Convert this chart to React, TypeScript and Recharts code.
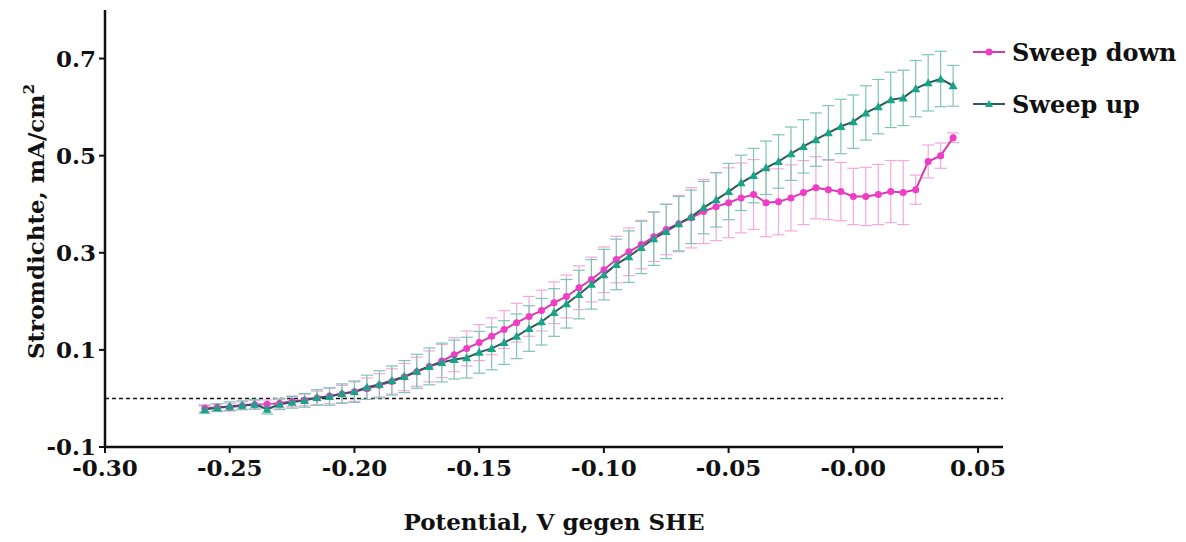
import { LineChart, Line, XAxis, YAxis, ErrorBar, ReferenceLine } from 'recharts';

const potential = [
    -0.26, -0.255, -0.25, -0.245, -0.24, -0.235, -0.23, -0.225, -0.22, -0.215,
    -0.21, -0.205, -0.2, -0.195, -0.19, -0.185, -0.18, -0.175, -0.17, -0.165,
    -0.16, -0.155, -0.15, -0.145, -0.14, -0.135, -0.13, -0.125, -0.12, -0.115,
    -0.11, -0.105, -0.1, -0.095, -0.09, -0.085, -0.08, -0.075, -0.07, -0.065,
    -0.06, -0.055, -0.05, -0.045, -0.04, -0.035, -0.03, -0.025, -0.02, -0.015,
    -0.01, -0.005, 0.0, 0.005, 0.01, 0.015, 0.02, 0.025, 0.03, 0.035,
    0.04,
];

const sweepDown = [
    -0.02, -0.018, -0.018, -0.015, -0.013, -0.012, -0.01, -0.006, -0.003, 0.001,
    0.005, 0.009, 0.014, 0.02, 0.027, 0.035, 0.044, 0.055, 0.066, 0.077,
    0.09, 0.103, 0.115, 0.128, 0.142, 0.156, 0.169, 0.181, 0.197, 0.21,
    0.228, 0.245, 0.265, 0.286, 0.302, 0.317, 0.333, 0.348, 0.36, 0.372,
    0.385, 0.395, 0.403, 0.413, 0.42, 0.403, 0.405, 0.413, 0.424, 0.434,
    0.43, 0.426, 0.416, 0.416, 0.42, 0.426, 0.424, 0.43, 0.488, 0.5,
    0.537,
];

const sweepUp = [
    -0.023, -0.019, -0.016, -0.014, -0.012, -0.022, -0.012, -0.008, -0.004, 0.002,
    0.004, 0.01, 0.014, 0.023, 0.029, 0.037, 0.045, 0.056, 0.066, 0.074,
    0.08, 0.084, 0.095, 0.103, 0.115, 0.128, 0.144, 0.158, 0.177, 0.195,
    0.214, 0.235, 0.255, 0.276, 0.292, 0.311, 0.329, 0.344, 0.36, 0.374,
    0.393, 0.409, 0.426, 0.444, 0.459, 0.475, 0.488, 0.504, 0.519, 0.533,
    0.547, 0.56, 0.57, 0.588, 0.601, 0.615, 0.619, 0.638, 0.65, 0.658,
    0.644,
];

const sweepDownErr = [
    0.007, 0.007, 0.008, 0.008, 0.009, 0.009, 0.01, 0.011, 0.012, 0.014,
    0.016, 0.018, 0.02, 0.022, 0.024, 0.026, 0.028, 0.03, 0.032, 0.034,
    0.035, 0.036, 0.037, 0.038, 0.039, 0.04, 0.041, 0.042, 0.043, 0.044,
    0.045, 0.046, 0.047, 0.048, 0.049, 0.05, 0.051, 0.052, 0.058, 0.062,
    0.066, 0.07, 0.072, 0.072, 0.072, 0.07, 0.068, 0.068, 0.066, 0.064,
    0.062, 0.06, 0.058, 0.06, 0.062, 0.064, 0.066, 0.03, 0.034, 0.026,
    0.01,
];

const sweepUpErr = [
    0.008, 0.008, 0.009, 0.009, 0.01, 0.01, 0.011, 0.012, 0.014, 0.016,
    0.018, 0.02, 0.022, 0.025, 0.028, 0.03, 0.033, 0.035, 0.038, 0.04,
    0.04, 0.042, 0.043, 0.044, 0.045, 0.046, 0.047, 0.048, 0.049, 0.05,
    0.05, 0.051, 0.052, 0.052, 0.053, 0.054, 0.055, 0.056, 0.056, 0.055,
    0.054, 0.056, 0.058, 0.057, 0.056, 0.055, 0.055, 0.055, 0.055, 0.055,
    0.056, 0.056, 0.055, 0.056, 0.056, 0.057, 0.057, 0.058, 0.058, 0.057,
    0.042,
];

const xTicks = [-0.3, -0.25, -0.2, -0.15, -0.1, -0.05, 0, 0.05];
const xTickLabels = ['-0.30', '-0.25', '-0.20', '-0.15', '-0.10', '-0.05', '-0.00', '0.05'];
const yTicks = [-0.1, 0.1, 0.3, 0.5, 0.7];
const yTickLabels = ['-0.1', '0.1', '0.3', '0.5', '0.7'];
const seriesNames = ['Sweep down', 'Sweep up'];

const FONT = '"DejaVu Serif", serif';
const PINK = '#f03cc6';
const PINK_LINE = '#d43aae';
const TEAL = '#19a488';
const TEAL_LINE = '#2b5b5b';

const data = potential.map((x, i) => ({
    x,
    down: sweepDown[i],
    up: sweepUp[i],
    downErr: sweepDownErr[i],
    upErr: sweepUpErr[i],
}));

// kleine Dreiecke für "Sweep up"
const renderTriangle = (props: any) => {
    const { cx, cy, index } = props;
    return (
        <path
            key={`tri-${index}`}
            d={`M${cx},${cy - 4.5}L${cx + 4.5},${cy + 3.5}L${cx - 4.5},${cy + 3.5}Z`}
            fill={TEAL}
        />
    );
};

const ChartLegend = () => {
    const items = [
        { name: seriesNames[0], line: PINK_LINE, marker: PINK, tri: false },
        { name: seriesNames[1], line: TEAL_LINE, marker: TEAL, tri: true },
    ];
    return (
        <div
            style={{
                position: 'absolute',
                top: 18,
                left: 965,
                fontFamily: FONT,
                fontWeight: 'bold',
                fontSize: 24,
                color: '#111',
            }}
        >
            {items.map((item) => (
                <div key={item.name} style={{ display: 'flex', alignItems: 'center', height: 52 }}>
                    <svg width={37} height={12} style={{ marginRight: 2 }}>
                        <line x1={0} y1={6} x2={32} y2={6} stroke={item.line} strokeWidth={2} />
                        {item.tri ? (
                            <path d="M16,2L20,9L12,9Z" fill={item.marker} />
                        ) : (
                            <circle cx={16} cy={6} r={3.5} fill={item.marker} />
                        )}
                    </svg>
                    <span>{item.name}</span>
                </div>
            ))}
        </div>
    );
};

const renderYLabel = (props: any) => {
    const { viewBox } = props;
    const x = viewBox.x + 36;
    const y = viewBox.y + viewBox.height / 2 - 7;
    return (
        <text
            x={x}
            y={y}
            transform={`rotate(-90, ${x}, ${y})`}
            textAnchor="middle"
            fontFamily={FONT}
            fontWeight="bold"
            fontSize={23}
            fill="#111"
        >
            Stromdichte, mA/cm
            <tspan dy={-10} fontSize={15}>
                2
            </tspan>
        </text>
    );
};

export default function App() {
    const tickStyle = { fontFamily: FONT, fontWeight: 'bold', fontSize: 23, fill: '#111' };
    return (
        <div style={{ position: 'relative', width: 1170, height: 530 }}>
            <LineChart width={1170} height={530} data={data} margin={{ top: 2, right: 175, bottom: 0, left: 0 }}>
                <XAxis
                    dataKey="x"
                    type="number"
                    domain={[-0.3, 0.06]}
                    ticks={xTicks}
                    tickFormatter={(v: number) => xTickLabels[xTicks.indexOf(v)] ?? String(v)}
                    height={91}
                    tick={tickStyle}
                    tickSize={6}
                    tickMargin={7}
                    axisLine={{ stroke: '#111', strokeWidth: 2.5 }}
                    tickLine={{ stroke: '#111', strokeWidth: 2 }}
                    label={{
                        value: 'Potential, V gegen SHE',
                        position: 'insideBottom',
                        offset: 8,
                        style: { fontFamily: FONT, fontWeight: 'bold', fontSize: 23, fill: '#111' },
                    }}
                />
                <YAxis
                    type="number"
                    domain={[-0.1, 0.8]}
                    ticks={yTicks}
                    tickFormatter={(v: number) => yTickLabels[yTicks.indexOf(v)] ?? String(v)}
                    width={97}
                    tick={tickStyle}
                    tickSize={6}
                    tickMargin={3}
                    axisLine={{ stroke: '#111', strokeWidth: 2.5 }}
                    tickLine={{ stroke: '#111', strokeWidth: 2 }}
                    label={{ content: renderYLabel }}
                />
                <ReferenceLine y={0} stroke="#111" strokeWidth={1.5} strokeDasharray="4 3" />
                <Line
                    dataKey="down"
                    name={seriesNames[0]}
                    stroke={PINK_LINE}
                    strokeWidth={2}
                    dot={{ r: 3.5, fill: PINK, stroke: PINK, strokeWidth: 0 }}
                    isAnimationActive={false}
                >
                    <ErrorBar dataKey="downErr" direction="y" width={6} stroke="#f4a8de" strokeWidth={1.2} />
                </Line>
                <Line
                    dataKey="up"
                    name={seriesNames[1]}
                    stroke={TEAL_LINE}
                    strokeWidth={2}
                    dot={renderTriangle}
                    isAnimationActive={false}
                >
                    <ErrorBar dataKey="upErr" direction="y" width={6} stroke="#7fc4b6" strokeWidth={1.2} />
                </Line>
            </LineChart>
            <ChartLegend />
        </div>
    );
}
